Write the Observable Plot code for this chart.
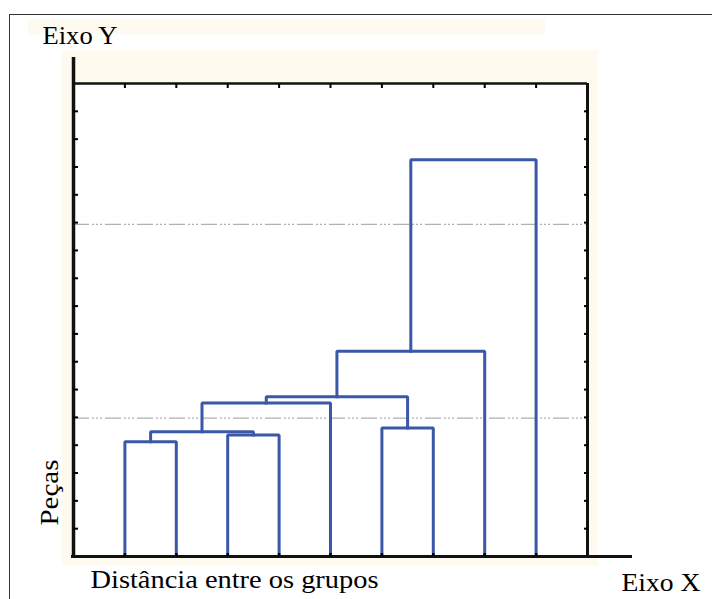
<!DOCTYPE html>
<html><head><meta charset="utf-8">
<script src="https://cdn.jsdelivr.net/npm/d3@7"></script>
<script src="https://cdn.jsdelivr.net/npm/@observablehq/plot@0.6"></script>
<style>
body{margin:0;background:#fff;width:712px;height:599px;overflow:hidden;position:relative;}
#border{position:absolute;left:9px;top:14px;width:800px;height:700px;border:1px solid #333;}
.cream{position:absolute;background:#fffaf0;}
#chart{position:absolute;left:0;top:0;}
</style></head><body>
<div id="border"></div>
<div class="cream" style="left:28px;top:19px;width:517px;height:15px"></div>
<div class="cream" style="left:62px;top:50px;width:536px;height:516px"></div>
<div id="chart"></div>
<script>
// Leaves (groups) in dendrogram order
const leaves = [1, 2, 3, 4, 5, 6, 7, 8, 9];
// Merges: node ids 0..8 are leaves, 9.. are merges in this order
const mergeLeft   = [0, 2, 9, 5, 11, 13, 14, 15];
const mergeRight  = [1, 3, 10, 6, 4, 12, 7, 8];
const mergeHeight = [4.12, 4.37, 4.48, 4.62, 5.52, 5.74, 7.38, 14.26];
const yTicks = [1, 2, 3, 4, 5, 6, 7, 8, 9, 10, 11, 12, 13, 14, 15, 16];
const xTicks = [1, 2, 3, 4, 5, 6, 7, 8, 9];
const gridValues = [4.97, 11.94];
const labelWidths = {"Eixo Y": 75, "Distância entre os grupos": 288, "Eixo X": 79, "Peças": 66};

const nodeX = leaves.slice();
const nodeH = leaves.map(() => 0);
const pts = [];
mergeLeft.forEach((l, i) => {
  const r = mergeRight[i], h = mergeHeight[i];
  pts.push({m: i, x: nodeX[l], y: nodeH[l]});
  pts.push({m: i, x: nodeX[l], y: h});
  pts.push({m: i, x: nodeX[r], y: h});
  pts.push({m: i, x: nodeX[r], y: nodeH[r]});
  nodeX.push((nodeX[l] + nodeX[r]) / 2);
  nodeH.push(h);
});

const font = {fontSize: 25, fontFamily: "Liberation Serif", fill: "#000", lineAnchor: "bottom", textAnchor: "start"};
const blue = "#3b57a8";

const svg = Plot.plot({
  width: 712, height: 599,
  marginLeft: 73, marginRight: 125, marginTop: 83, marginBottom: 43,
  x: {domain: [0, 10]},
  y: {domain: [0, 17]},
  style: {background: "transparent", overflow: "visible"},
  marks: [
    Plot.frame({fill: "white", stroke: null}),
    Plot.ruleY(gridValues, {stroke: "#b0b0b0", strokeWidth: 1.2, strokeDasharray: "16,3,2,2,2,2,2,3"}),
    Plot.line(pts, {x: "x", y: "y", z: "m", stroke: blue, strokeWidth: 3, strokeLinejoin: "miter", strokeLinecap: "square"}),
    Plot.ruleY([17], {stroke: "#111", strokeWidth: 2.5}),
    Plot.ruleX([10], {stroke: "#111", strokeWidth: 3}),
    Plot.ruleX([0], {stroke: "#111", strokeWidth: 3.5, insetTop: -26, insetBottom: -2}),
    Plot.ruleY([0], {stroke: "#111", strokeWidth: 3, insetRight: -45, insetLeft: -2}),
    Plot.axisY(yTicks, {anchor: "left", tickSize: -5, strokeWidth: 2, tickFormat: () => "", label: null}),
    Plot.axisY(yTicks, {anchor: "right", tickSize: -4, strokeWidth: 2, tickFormat: () => "", label: null}),
    Plot.axisX(xTicks, {anchor: "top", tickSize: -4, strokeWidth: 2, tickFormat: () => "", label: null}),
    Plot.axisX(xTicks, {anchor: "bottom", tickSize: -3, strokeWidth: 2.5, tickFormat: () => "", label: null}),
    Plot.text(["Eixo Y"], {...font, frameAnchor: "top-left", dx: -31, dy: -40}),
    Plot.text(["Distância entre os grupos"], {...font, frameAnchor: "bottom-left", dx: 17, dy: 31}),
    Plot.text(["Eixo X"], {...font, frameAnchor: "bottom-right", dx: 34, dy: 34}),
    Plot.text(["Peças"], {...font, frameAnchor: "bottom-left", dx: -16, dy: -31, rotate: -90})
  ]
});
d3.select(svg).selectAll("text").each(function() {
  const w = labelWidths[this.textContent];
  if (w) { this.setAttribute("textLength", w); this.setAttribute("lengthAdjust", "spacingAndGlyphs"); }
});
document.getElementById("chart").appendChild(svg);
</script>
</body></html>
